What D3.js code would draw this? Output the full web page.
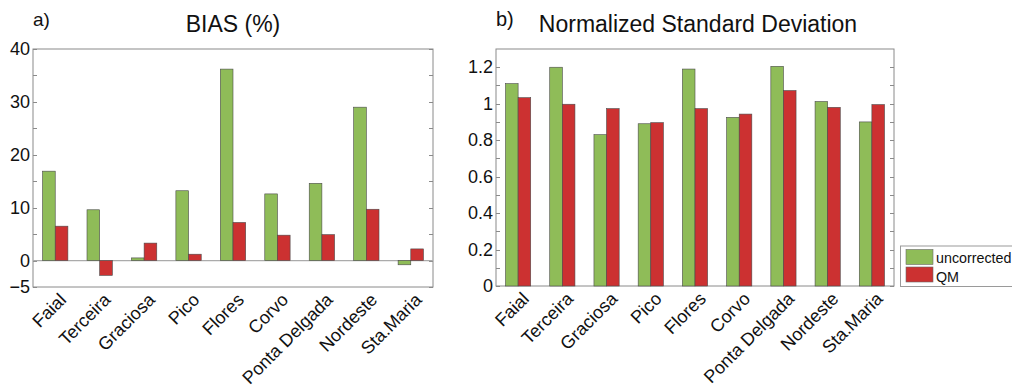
<!DOCTYPE html>
<html><head><meta charset="utf-8">
<script src="https://cdn.jsdelivr.net/npm/d3@7"></script>
<style>body{margin:0;background:#fff;} text{font-family:"Liberation Sans",Arial,sans-serif;fill:#111;}</style>
</head><body>
<svg id="c" width="1012" height="387"></svg>
<script>
const categories = ["Faial","Terceira","Graciosa","Pico","Flores","Corvo","Ponta Delgada","Nordeste","Sta.Maria"];
const biasUncorrected = [16.9, 9.6, 0.5, 13.2, 36.2, 12.6, 14.6, 29.0, -0.8];
const biasQM = [6.5, -2.8, 3.3, 1.2, 7.2, 4.8, 4.9, 9.7, 2.2];
const nsdUncorrected = [1.11, 1.20, 0.83, 0.89, 1.19, 0.925, 1.205, 1.012, 0.90];
const nsdQM = [1.033, 0.997, 0.973, 0.896, 0.973, 0.943, 1.072, 0.98, 0.995];
const biasTicks = [-5, 0, 10, 20, 30, 40];
const nsdTicks = [0, 0.2, 0.4, 0.6, 0.8, 1, 1.2];
const seriesNames = ["uncorrected", "QM"];
const colors = ["#8fbc58", "#cc3131"];

const svg = d3.select("#c");

function panel(o) {
  const g = svg.append("g");
  const x = d3.scaleBand().domain(categories).range([o.x0, o.x1]).padding(0);
  const y = d3.scaleLinear().domain(o.domain).range([o.y1, o.y0]);
  const bw = x.bandwidth() * 0.285;
  // box
  g.append("rect").attr("x", o.x0).attr("y", o.y0).attr("width", o.x1 - o.x0).attr("height", o.y1 - o.y0)
    .attr("fill", "none").attr("stroke", "#8a8a8a").attr("stroke-width", 1);
  // ticks both sides, inward
  o.allTicks.forEach(t => {
    const yy = Math.round(y(t)) + 0.5;
    g.append("line").attr("x1", o.x0).attr("x2", o.x0 + 4).attr("y1", yy).attr("y2", yy).attr("stroke", "#8a8a8a");
    g.append("line").attr("x1", o.x1 - 4).attr("x2", o.x1).attr("y1", yy).attr("y2", yy).attr("stroke", "#8a8a8a");
  });
  // tick labels
  const ax = d3.axisLeft(y).tickValues(o.ticks).tickSize(0).tickPadding(3).tickFormat(o.fmt);
  const axg = g.append("g").attr("transform", `translate(${o.x0},0)`).call(ax);
  axg.select(".domain").remove();
  axg.selectAll("text").style("font-size", "18px").attr("fill", "#111").attr("font-family", "Liberation Sans, Arial, sans-serif");
  // zero line
  if (o.zeroLine) {
    g.append("line").attr("x1", o.x0).attr("x2", o.x1).attr("y1", y(0)).attr("y2", y(0)).attr("stroke", "#ababab").attr("stroke-width", 1.3);
  }
  // bars
  [o.a, o.b].forEach((vals, si) => {
    g.selectAll(null).data(vals).enter().append("rect")
      .attr("x", (d, i) => x(categories[i]) + x.bandwidth() / 2 + (si === 0 ? -bw : 0))
      .attr("y", d => y(Math.max(0, d)))
      .attr("width", bw)
      .attr("height", d => Math.abs(y(d) - y(0)))
      .attr("fill", colors[si]).attr("stroke", "#4a4a4a").attr("stroke-width", 0.6);
  });
  // x labels
  categories.forEach(c => {
    const cx = x(c) + x.bandwidth() / 2 + 12;
    g.append("text").attr("transform", `translate(${cx},${o.y1 + 14}) rotate(-45)`)
      .attr("text-anchor", "end").style("font-size", "18px").text(c);
  });
  // titles
  g.append("text").attr("x", o.labX).attr("y", 25.5).style("font-size", o.labFont + "px").text(o.lab);
  g.append("text").attr("x", o.titleX).attr("y", 32.3).attr("text-anchor", "middle").style("font-size", "23px").text(o.title);
  return {x, y};
}

panel({x0: 33, x1: 433, y0: 49, y1: 287, domain: [-5, 40], ticks: biasTicks,
  allTicks: d3.range(-5, 41, 5), fmt: d3.format("d"), zeroLine: true,
  a: biasUncorrected, b: biasQM, lab: "a)", labX: 33, labFont: 19, title: "BIAS (%)", titleX: 233});
panel({x0: 496, x1: 894, y0: 49, y1: 286, domain: [0, 1.3], ticks: nsdTicks,
  allTicks: d3.range(0, 13).map(v => v / 10), fmt: d => d3.format("~g")(d), zeroLine: false,
  a: nsdUncorrected, b: nsdQM, lab: "b)", labX: 496, labFont: 20, title: "Normalized Standard Deviation", titleX: 698});

// legend
const lg = svg.append("g");
lg.append("rect").attr("x", 900.5).attr("y", 246).attr("width", 130).attr("height", 40.5).attr("fill", "#fff").attr("stroke", "#9a9a9a");
seriesNames.forEach((n, i) => {
  lg.append("rect").attr("x", 906).attr("y", 249.5 + i * 17.5).attr("width", 27).attr("height", 15)
    .attr("fill", colors[i]).attr("stroke", "#6a6a6a").attr("stroke-width", 0.6);
  lg.append("text").attr("x", 936).attr("y", 263.3 + i * 18.7).style("font-size", "14.3px").text(n);
});
</script>
</body></html>
